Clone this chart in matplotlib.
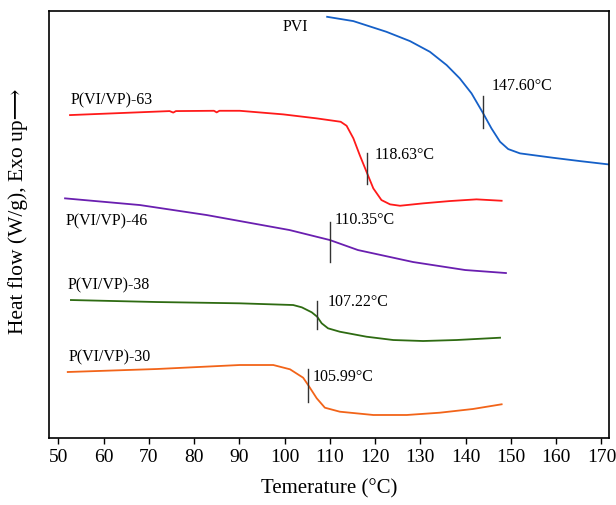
import matplotlib
matplotlib.use("Agg")
import matplotlib.pyplot as plt

plt.rcParams['font.family'] = ['Liberation Serif', 'DejaVu Serif']

# curves: temperature (°C) and heat flow (arbitrary units)
pvi_t = [109.4, 115.2, 122.5, 127.7, 132.1, 135.8, 138.7, 141.3, 143.75, 145.7, 147.6, 149.4, 152.0, 159.3, 165.2, 171.5]
pvi_y = [488.3, 484.0, 473.3, 464.0, 453.3, 440.0, 426.7, 411.7, 392.7, 376.7, 363.3, 356.0, 351.7, 347.3, 344.0, 340.7]

p63_t = [52.6, 74.6, 75.4, 76.0, 84.4, 85.0, 85.6, 90.1, 99.7, 107.1, 112.4, 113.7, 115.2, 116.6, 118.1, 119.6,
         121.4, 123.3, 125.5, 130.6, 136.5, 142.4, 147.95]
p63_y = [390.0, 394.0, 392.5, 394.0, 394.3, 392.7, 394.3, 394.3, 390.7, 386.7, 383.3, 379.3, 366.7, 350.0, 333.3, 316.7,
         305.0, 300.7, 299.3, 301.7, 304.0, 305.7, 304.3]

p46_t = [51.5, 68.05, 82.8, 101.1, 110.0, 116.2, 128.4, 139.9, 148.9]
p46_y = [306.7, 300.0, 290.0, 275.0, 265.0, 255.0, 243.0, 235.0, 232.0]

p38_t = [52.8, 71.8, 90.1, 101.9, 103.8, 106.0, 107.2, 108.2, 109.6, 112.2, 118.1, 124.0, 130.6, 138.0, 147.6]
p38_y = [205.0, 203.0, 201.7, 200.0, 197.7, 192.7, 188.3, 181.7, 176.7, 173.3, 168.3, 165.0, 164.0, 165.0, 167.3]

p30_t = [52.1, 71.8, 90.1, 97.5, 101.2, 104.1, 105.2, 107.1, 108.9, 112.2, 119.6, 127.0, 134.3, 141.6, 147.95]
p30_y = [133.0, 136.0, 140.0, 140.0, 135.7, 127.3, 120.0, 106.7, 97.3, 93.3, 90.0, 90.0, 92.3, 96.0, 100.7]

colors = ['#1560c8', '#ff1a1a', '#6a1fb0', '#2e6b12', '#f26419']
names = ['PVI', 'P(VI/VP)-63', 'P(VI/VP)-46', 'P(VI/VP)-38', 'P(VI/VP)-30']
name_pos = [(99.6, 478), (52.8, 405), (51.7, 284), (52.0, 220), (52.3, 148)]

# glass transition marks: position, y range, label and label position
tg_x = [143.75, 118.1, 110.0, 107.1, 105.1]
tg_y = [(377.3, 409.3), (320.7, 351.7), (243, 283), (175.7, 204.3), (103.3, 135.7)]
tg_text = ['147.60°C', '118.63°C', '110.35°C', '107.22°C', '105.99°C']
tg_pos = [(145.7, 419), (119.8, 350.5), (111.1, 285), (109.6, 202.7), (106.3, 128.3)]

fig = plt.figure(figsize=(6.16, 5.05), dpi=100)
ax = fig.add_axes([0.0795, 0.1327, 0.909, 0.8453])

curves = [(pvi_t, pvi_y), (p63_t, p63_y), (p46_t, p46_y), (p38_t, p38_y), (p30_t, p30_y)]
for (t, y), c in zip(curves, colors):
    ax.plot(t, y, color=c, lw=1.3, solid_joinstyle='round')

for n, (x, y) in zip(names, name_pos):
    ax.text(x, y, n, fontsize=11.5, va='center', ha='left')

for x, (y0, y1), s, (lx, ly) in zip(tg_x, tg_y, tg_text, tg_pos):
    ax.plot([x, x], [y0, y1], color='#333333', lw=1.0)
    ax.text(lx, ly, s, fontsize=11.5, va='center', ha='left')

ax.set_xlim(47.95, 171.65)
ax.set_ylim(67, 494)
ax.set_xticks(range(50, 171, 10))
ax.set_yticks([])
ax.tick_params(axis='x', labelsize=14, length=4, width=1, direction='out', pad=4)
for s in ax.spines.values():
    s.set_linewidth(1.2)

ax.set_xlabel('Temerature (°C)', fontsize=15, labelpad=9)
fig.text(0.029, 0.582, 'Heat flow (W/g), Exo up\u27f6', rotation=90, fontsize=15.5,
         ha='center', va='center')

fig.savefig('out.png', dpi=100)
